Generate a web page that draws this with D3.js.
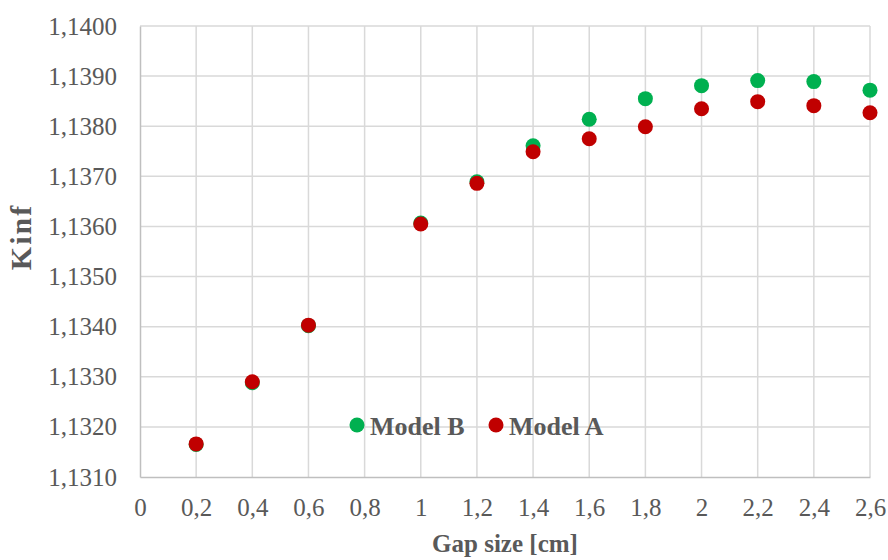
<!DOCTYPE html>
<html><head><meta charset="utf-8">
<script src="https://cdn.jsdelivr.net/npm/d3@7"></script>
<style>body{margin:0;background:#fff}</style>
</head><body>
<svg id="c" width="888" height="560"></svg>
<script>
const gap = [0.2, 0.4, 0.6, 1.0, 1.2, 1.4, 1.6, 1.8, 2.0, 2.2, 2.4, 2.6];
const modelB = [1.13165, 1.13288, 1.13402, 1.13607, 1.13689, 1.13761, 1.13814, 1.13855, 1.13881, 1.13891, 1.13889, 1.13872];
const modelA = [1.13166, 1.13290, 1.13403, 1.13605, 1.13686, 1.13749, 1.13775, 1.13799, 1.13835, 1.13849, 1.13841, 1.13827];
const xTicks = [0,0.2,0.4,0.6,0.8,1,1.2,1.4,1.6,1.8,2,2.2,2.4,2.6];
const yTicks = [1.131,1.132,1.133,1.134,1.135,1.136,1.137,1.138,1.139,1.140];

const svg = d3.select("#c");
const x = d3.scaleLinear().domain([0,2.6]).range([140,870]);
const y = d3.scaleLinear().domain([1.131,1.140]).range([477,26]);
const fmtX = d => String(+d.toFixed(1)).replace(".", ",");
const fmtY = d => d.toFixed(4).replace(".", ",");
const font = "'Liberation Serif','Times New Roman',serif";
const txt = "#595959";

// gridlines
svg.append("g").selectAll("line").data(yTicks.slice(1)).join("line")
  .attr("x1", x(0)).attr("x2", x(2.6)).attr("y1", d=>y(d)).attr("y2", d=>y(d))
  .attr("stroke", "#d9d9d9").attr("stroke-width", 1.5);
svg.append("g").selectAll("line").data(xTicks.slice(1)).join("line")
  .attr("x1", d=>x(d)).attr("x2", d=>x(d)).attr("y1", y(1.131)).attr("y2", y(1.140))
  .attr("stroke", "#d9d9d9").attr("stroke-width", 1.5);

// axes
const xAxis = svg.append("g").attr("transform", `translate(0,${y(1.131)})`)
  .call(d3.axisBottom(x).tickValues(xTicks).tickFormat(fmtX).tickSize(0).tickPadding(21));
const yAxis = svg.append("g").attr("transform", `translate(${x(0)},0)`)
  .call(d3.axisLeft(y).tickValues(yTicks).tickFormat(fmtY).tickSize(0).tickPadding(23));
[xAxis, yAxis].forEach(a => {
  a.select(".domain").attr("stroke", "#bfbfbf").attr("stroke-width", 1.5);
  a.selectAll("text").attr("fill", txt).style("font-family", font).style("font-size", "25px");
});

// points
function series(vals, color) {
  svg.append("g").selectAll("circle").data(gap.map((g,i)=>[g, vals[i]])).join("circle")
    .attr("cx", d=>x(d[0])).attr("cy", d=>y(d[1])).attr("r", 7.5).attr("fill", color);
}
series(modelB, "#00b050");
series(modelA, "#c00000");

// titles
svg.append("text").attr("x", 505).attr("y", 552).attr("text-anchor", "middle")
  .attr("fill", txt).style("font-family", font).style("font-size", "25px").style("font-weight", "bold")
  .text("Gap size [cm]");
svg.append("text").attr("transform", "translate(31,237) rotate(-90)").attr("text-anchor", "middle")
  .attr("fill", txt).style("font-family", font).style("font-size", "30px").style("font-weight", "bold")
  .attr("letter-spacing", "2px")
  .text("Kinf");

// legend
const legend = [["Model B", "#00b050", 357], ["Model A", "#c00000", 496]];
const lg = svg.append("g");
legend.forEach(([name, color, lx]) => {
  lg.append("circle").attr("cx", lx).attr("cy", 425).attr("r", 7.5).attr("fill", color);
  lg.append("text").attr("x", lx + 13).attr("y", 426).attr("dy", "0.35em")
    .attr("fill", txt).style("font-family", font).style("font-size", "26px").style("font-weight", "bold")
    .text(name);
});
</script>
</body></html>
